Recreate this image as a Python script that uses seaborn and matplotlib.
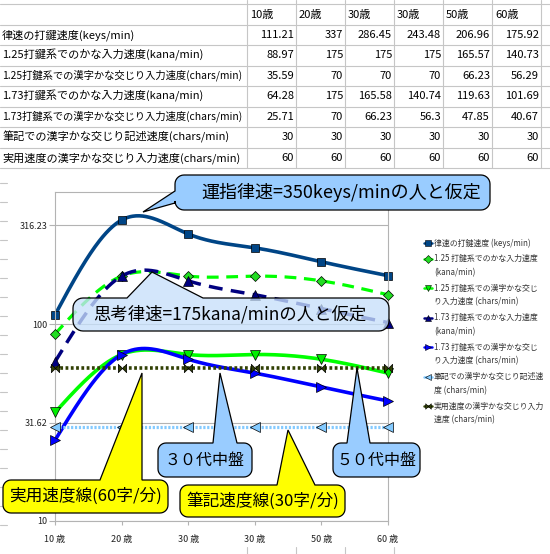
import numpy as np
import pandas as pd
import seaborn as sns
import matplotlib
matplotlib.use("Agg")
import matplotlib.pyplot as plt
from matplotlib.lines import Line2D
from matplotlib.patches import Polygon
from matplotlib.path import Path
from matplotlib.transforms import Affine2D
from matplotlib.ticker import NullLocator

# ---------------- data ----------------
ages = ["10歳", "20歳", "30歳", "30歳", "50歳", "60歳"]
xtick_labels = ["10 歳", "20 歳", "30 歳", "30 歳", "50 歳", "60 歳"]
row_labels = [
    "律速の打鍵速度(keys/min)",
    "1.25打鍵系でのかな入力速度(kana/min)",
    "1.25打鍵系での漢字かな交じり入力速度(chars/min)",
    "1.73打鍵系でのかな入力速度(kana/min)",
    "1.73打鍵系での漢字かな交じり入力速度(chars/min)",
    "筆記での漢字かな交じり記述速度(chars/min)",
    "実用速度の漢字かな交じり入力速度(chars/min)",
]
legend_labels = [
    "律速の打鍵速度 (keys/min)",
    "1.25 打鍵系でのかな入力速度\n(kana/min)",
    "1.25 打鍵系での漢字かな交じ\nり入力速度 (chars/min)",
    "1.73 打鍵系でのかな入力速度\n(kana/min)",
    "1.73 打鍵系での漢字かな交じ\nり入力速度 (chars/min)",
    "筆記での漢字かな交じり記述速\n度 (chars/min)",
    "実用速度の漢字かな交じり入力\n速度 (chars/min)",
]
keys_speed = [111.21, 337, 286.45, 243.48, 206.96, 175.92]
kana_125 = [88.97, 175, 175, 175, 165.57, 140.73]
chars_125 = [35.59, 70, 70, 70, 66.23, 56.29]
kana_173 = [64.28, 175, 165.58, 140.74, 119.63, 101.69]
chars_173 = [25.71, 70, 66.23, 56.3, 47.85, 40.67]
handwriting = [30, 30, 30, 30, 30, 30]
practical = [60, 60, 60, 60, 60, 60]
series_values = [keys_speed, kana_125, chars_125, kana_173, chars_173, handwriting, practical]

ytick_vals = [10, 31.62, 100, 316.23]
ytick_labels = ["10", "31.62", "100", "316.23"]

callout_texts = ["運指律速=350keys/minの人と仮定", "思考律速=175kana/minの人と仮定",
                 "３０代中盤", "５０代中盤", "実用速度線(60字/分)", "筆記速度線(30字/分)"]

# ---------------- setup ----------------
sns.set_style("white")
plt.rcParams["font.family"] = ["Noto Sans CJK JP", "DejaVu Sans"]
plt.rcParams["lines.scale_dashes"] = False

W, H = 550, 554
fig = plt.figure(figsize=(W / 100, H / 100), dpi=100)
PX = Affine2D().scale(1 / W, -1 / H).translate(0, 1) + fig.transFigure
renderer = fig.canvas.get_renderer()
GRID = "#c6c6c6"

def ftext(x, y, s, **kw):
    return fig.text(x / W, 1 - y / H, s, **kw)

def pline(xs, ys, **kw):
    fig.add_artist(Line2D(xs, ys, transform=PX, **kw))

# ---------------- spreadsheet table ----------------
col_lines = [247, 296, 345, 394, 443, 492, 541]
row_top, row_h = 4, 20.5
for i in range(9):
    y = row_top + row_h * i
    pline([0, W], [y, y], color=GRID, lw=0.8)
for x in col_lines:
    pline([x, x], [0, row_top + row_h * 8], color=GRID, lw=0.8)
# spreadsheet grid fragments around the chart object
for k in range(19):
    y = 183 + 19 * k
    pline([0, 7], [y, y], color=GRID, lw=0.8)
for x in col_lines[:4]:
    pline([x, x], [547, H], color=GRID, lw=0.8)

for j, a in enumerate(ages):
    ftext(col_lines[j] + 3, row_top + row_h / 2 + 1, a, ha="left", va="center",
          fontsize=8, color="black")
for i, (lab, vals) in enumerate(zip(row_labels, series_values)):
    yc = row_top + row_h * (i + 1) + row_h / 2
    t = ftext(2, yc, lab, ha="left", va="center", fontsize=8, color="black")
    wpx = t.get_window_extent(renderer).width
    maxw = col_lines[0] - 6
    if wpx > maxw:
        t.set_fontsize(8 * maxw / wpx)
    for j, v in enumerate(vals):
        ftext(col_lines[j + 1] - 2, yc, f"{v:g}", ha="right", va="center",
              fontsize=8, color="black")

# ---------------- chart ----------------
ax = fig.add_axes([55 / W, 1 - 521 / H, (388 - 55) / W, (521 - 192) / H])
ax.set_facecolor("white")
ax.set_yscale("log")

def natural_spline_log(x, y, n=60):
    x = np.asarray(x, float)
    ly = np.log10(np.asarray(y, float))
    m = len(x)
    h = np.diff(x)
    A = np.zeros((m, m)); b = np.zeros(m)
    A[0, 0] = A[-1, -1] = 1
    for i in range(1, m - 1):
        A[i, i - 1] = h[i - 1]; A[i, i] = 2 * (h[i - 1] + h[i]); A[i, i + 1] = h[i]
        b[i] = 6 * ((ly[i + 1] - ly[i]) / h[i] - (ly[i] - ly[i - 1]) / h[i - 1])
    M = np.linalg.solve(A, b)
    xs, ys = [], []
    for i in range(m - 1):
        t = np.linspace(x[i], x[i + 1], n, endpoint=(i == m - 2))
        a_ = (x[i + 1] - t) / h[i]; b_ = (t - x[i]) / h[i]
        s = (a_ * ly[i] + b_ * ly[i + 1]
             + ((a_ ** 3 - a_) * M[i] + (b_ ** 3 - b_) * M[i + 1]) * h[i] ** 2 / 6)
        xs.append(t); ys.append(10 ** s)
    return np.concatenate(xs), np.concatenate(ys)

bowtie = Path([(-1, 1), (0, 0), (-1, -1), (-1, 1), (1, 1), (0, 0), (1, -1), (1, 1)],
              [Path.MOVETO, Path.LINETO, Path.LINETO, Path.CLOSEPOLY,
               Path.MOVETO, Path.LINETO, Path.LINETO, Path.CLOSEPOLY])

styles = [
    dict(color="#004586", lw=2.6, dashes=None, marker="s", ms=6, mfc="#004586"),
    dict(color="#00ff00", lw=2.3, dashes=(8.5, 5.5), marker="D", ms=5, mfc="#22dd22"),
    dict(color="#00ff00", lw=2.6, dashes=None, marker="v", ms=7, mfc="#00ee00"),
    dict(color="#000080", lw=2.5, dashes=(10, 6), marker="^", ms=7, mfc="#000080"),
    dict(color="#0000ff", lw=2.6, dashes=None, marker=">", ms=7, mfc="#0000ff"),
    dict(color="#83caff", lw=2.3, dashes=(1.6, 1.2), marker="<", ms=7, mfc="#83caff"),
    dict(color="#314004", lw=2.6, dashes=(2.0, 1.8), marker=bowtie, ms=6, mfc="#314004"),
]
pos = np.arange(len(ages))
for k, (vals, st) in enumerate(zip(series_values, styles)):
    xs, ys = natural_spline_log(pos, vals)
    df = pd.DataFrame({"x": xs, "y": ys})
    sns.lineplot(data=df, x="x", y="y", ax=ax, color=st["color"], linewidth=st["lw"],
                 estimator=None, sort=False, zorder=2 + k)
    ln = ax.lines[-1]
    if st["dashes"]:
        ln.set_dashes(st["dashes"])
    ax.plot(pos, vals, linestyle="none", marker=st["marker"], ms=st["ms"],
            mfc=st["mfc"], mec="black", mew=0.5, clip_on=False, zorder=2.5 + k)

ax.set_xlim(0, 5)
ax.set_ylim(10, 10 ** (1 + (521 - 192) / 197))
ax.yaxis.set_minor_locator(NullLocator())
ax.set_yticks(ytick_vals, labels=ytick_labels)
ax.set_xticks(pos, labels=xtick_labels)
ax.set_xlabel(""); ax.set_ylabel("")
ax.grid(axis="y", color="#b3b3b3", lw=0.8)
ax.grid(axis="x", visible=False)
for sp in ax.spines.values():
    sp.set_color("#b3b3b3"); sp.set_linewidth(0.8)
ax.tick_params(axis="y", length=4, color="#b3b3b3", labelsize=6.5, labelcolor="#222222", pad=1.5, left=True)
ax.tick_params(axis="x", length=3, color="#b3b3b3", labelsize=6.5, labelcolor="#222222", pad=7, bottom=True)

# ---------------- legend ----------------
ly = 243
for lab, st in zip(legend_labels, styles):
    lines = lab.split("\n")
    fig.add_artist(Line2D([424, 428, 432], [ly, ly, ly], transform=PX, color=st["color"],
                          lw=1.8, marker=st["marker"], ms=4, mfc=st["mfc"], mec="black",
                          mew=0.4, markevery=[1]))
    for q, s in enumerate(lines):
        ftext(434, ly + 14 * q, s, ha="left", va="center", fontsize=5.7, color="#333333")
    ly += 14 * (len(lines) - 1) + 15.5

# ---------------- callouts ----------------
def callout(x0, y0, x1, y1, tail, r, fc, text, fs, tx=None, ty=None):
    edge, a, b, tipx, tipy = tail
    pts = []
    def arc(cx, cy, t0, t1):
        for t in np.linspace(np.radians(t0), np.radians(t1), 8):
            pts.append((cx + r * np.cos(t), cy + r * np.sin(t)))
    pts.append((x0 + r, y0))
    if edge == "top":
        pts += [(a, y0), (tipx, tipy), (b, y0)]
    pts.append((x1 - r, y0))
    arc(x1 - r, y0 + r, -90, 0)
    arc(x1 - r, y1 - r, 0, 90)
    if edge == "bottom":
        pts += [(b, y1), (tipx, tipy), (a, y1)]
    arc(x0 + r, y1 - r, 90, 180)
    if edge == "left":
        pts += [(x0, b), (tipx, tipy), (x0, a)]
    arc(x0 + r, y0 + r, 180, 270)
    fig.add_artist(Polygon(pts, closed=True, transform=PX, facecolor=fc,
                           edgecolor="black", lw=0.9, zorder=5))
    if tx is None:
        tx = (x0 + x1) / 2
    if ty is None:
        ty = (y0 + y1) / 2
    return ftext(tx, ty, text, ha="center", va="center", fontsize=fs, color="black", zorder=6)

callout(175, 175, 490, 210, ("left", 191, 203, 143, 212), 9, "#99ccff",
        callout_texts[0], 13, tx=341, ty=192)
callout(73, 298, 389, 331, ("top", 127, 203, 152, 272), 10, (0.78, 0.88, 0.98, 0.78),
        callout_texts[1], 12.5, tx=230, ty=314)
callout(158, 443, 252, 477, ("top", 213, 237, 220, 373), 8, "#99ccff",
        callout_texts[2], 11.5)
callout(333, 443, 420, 477, ("top", 347, 370, 357, 368), 8, "#99ccff",
        callout_texts[3], 11.5)
callout(3, 480, 168, 513, ("top", 100, 142, 142, 373), 8, "#ffff00",
        callout_texts[4], 12)
callout(180, 485, 345, 517, ("top", 277, 315, 288, 430), 8, "#ffff00",
        callout_texts[5], 12)

fig.savefig("out.png", dpi=100)
